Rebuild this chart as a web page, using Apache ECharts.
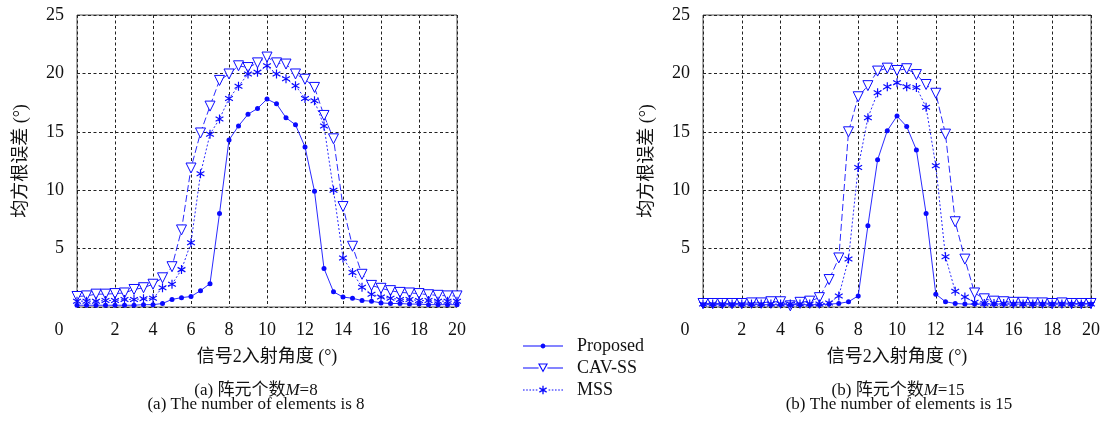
<!DOCTYPE html>
<html><head><meta charset="utf-8">
<script src="https://cdn.jsdelivr.net/npm/echarts@6/dist/echarts.min.js"></script>
<style>html,body{margin:0;padding:0;background:#fff}#c{width:1104px;height:430px}</style>
</head><body><div id="c"></div>
<script>
// ---- data ----
const angles = [0,0.5,1,1.5,2,2.5,3,3.5,4,4.5,5,5.5,6,6.5,7,7.5,8,8.5,9,9.5,10,10.5,11,11.5,12,12.5,13,13.5,14,14.5,15,15.5,16,16.5,17,17.5,18,18.5,19,19.5,20];
const xTickValues = [0,2,4,6,8,10,12,14,16,18,20];
const yTickValues = [0,5,10,15,20,25];
const seriesNames = ['Proposed','CAV-SS','MSS'];
// (a) M = 8
const proposedM8 = [0.15,0.15,0.15,0.15,0.15,0.15,0.15,0.2,0.2,0.3,0.65,0.8,0.9,1.4,2.0,8.0,14.3,15.5,16.5,17.0,17.8,17.4,16.2,15.6,13.7,9.9,3.3,1.3,0.85,0.75,0.55,0.5,0.35,0.3,0.3,0.25,0.25,0.2,0.2,0.2,0.2];
const cavM8 = [0.9,0.95,1.1,1.1,1.15,1.2,1.5,1.65,1.95,2.5,3.45,6.6,11.9,14.9,17.2,19.4,19.95,20.65,20.5,20.9,21.4,20.9,20.8,19.95,19.5,18.8,16.4,14.4,8.6,5.2,2.8,1.85,1.6,1.4,1.25,1.2,1.15,1.05,1.0,0.95,0.95];
const mssM8 = [0.5,0.5,0.5,0.55,0.55,0.65,0.65,0.7,0.75,1.65,1.95,3.2,5.5,11.4,14.8,16.1,17.85,18.9,19.95,20.1,20.65,19.95,19.55,18.95,17.85,17.65,15.5,10.0,4.2,2.95,1.7,1.1,0.85,0.75,0.65,0.65,0.55,0.55,0.5,0.5,0.5];
// (b) M = 15
const proposedM15 = [0.2,0.2,0.2,0.2,0.2,0.2,0.2,0.2,0.2,0.2,0.2,0.2,0.2,0.25,0.3,0.45,0.95,6.95,12.6,15.1,16.35,15.45,13.45,8.0,1.1,0.45,0.3,0.25,0.25,0.25,0.25,0.25,0.25,0.25,0.25,0.25,0.25,0.25,0.25,0.25,0.25];
const cavM15 = [0.3,0.3,0.3,0.3,0.3,0.35,0.35,0.45,0.45,0.1,0.4,0.5,0.8,2.35,4.2,15.0,18.0,18.95,20.2,20.45,20.25,20.4,19.9,19.05,18.3,14.8,7.3,4.1,1.2,0.7,0.5,0.45,0.4,0.4,0.35,0.35,0.3,0.35,0.3,0.3,0.3];
const mssM15 = [0.25,0.25,0.25,0.25,0.25,0.25,0.25,0.25,0.25,0.25,0.25,0.25,0.25,0.35,0.95,4.1,11.95,16.2,18.35,18.85,19.2,18.85,18.8,17.1,12.1,4.3,1.35,0.85,0.4,0.3,0.3,0.3,0.25,0.25,0.25,0.25,0.25,0.25,0.25,0.25,0.25];

// ---- symbol path helpers ----
function f(v){return v.toFixed(2);}
function bar(x1,y1,x2,y2,hw){
  const dx=x2-x1, dy=y2-y1, L=Math.hypot(dx,dy), nx=-dy/L*hw, ny=dx/L*hw;
  const p=[[x1+nx,y1+ny],[x2+nx,y2+ny],[x2-nx,y2-ny],[x1-nx,y1-ny]];
  return 'M'+p.map(q=>f(q[0])+','+f(q[1])).join(' L')+' Z ';
}
function circlePath(cx,cy,r){
  const pts=[];
  for(let k=0;k<16;k++){const t=-k*2*Math.PI/16; pts.push([cx+r*Math.cos(t),cy+r*Math.sin(t)]);}
  return 'M'+pts.map(q=>f(q[0])+','+f(q[1])).join(' L')+' Z ';
}
function starPath(cx,cy,r,hw){
  return [90,30,150].map(a=>{const c=Math.cos(a*Math.PI/180)*r, s=Math.sin(a*Math.PI/180)*r; return bar(cx-c,cy-s,cx+c,cy+s,hw);}).join('');
}
const anchors = 'M0,0 L0.05,0 L0,0.05 Z M40,14 L39.95,14 L40,13.95 Z ';
const iconProposed = 'path://' + anchors + bar(0,7,40,7,0.6) + circlePath(20,7,2.4);
const iconCav = 'path://' + anchors + bar(0,7,15.6,7,0.6) + bar(24.4,7,40,7,0.6)
  + 'M15,2.5 L20,11.5 L25,2.5 Z M16.9,3.6 L23.1,3.6 L20,9.3 Z';
let dots='';
for(let x=0;x<40;x+=3.2){ if(x+1.6<16.5 || x>23.5) dots+=bar(x,7,x+1.6,7,0.6); }
const iconMss = 'path://' + anchors + dots + starPath(20,7,4.2,0.65);
const starSymbol = 'path://' + starPath(10,10,10,1.3);

const BLUE='#0a0aff';
const SERIF="'Liberation Serif', 'Noto Sans CJK SC', serif";
const MIXED="'Liberation Serif', 'Noto Sans CJK SC', serif";

const chart = echarts.init(document.getElementById('c'), null, {renderer:'canvas'});

function axisX(gi){
  return {
    type:'value', gridIndex:gi, min:xTickValues[0], max:xTickValues[xTickValues.length-1], interval:2,
    name:'信号2入射角度 (°)', nameLocation:'middle', nameGap:41,
    nameTextStyle:{fontFamily:MIXED, fontSize:18, color:'#111'},
    axisLine:{show:false}, axisTick:{show:false},
    axisLabel:{margin:14, fontFamily:SERIF, fontSize:18, color:'#111',
      formatter:v=> v===0 ? '{z|0}' : String(v),
      rich:{z:{fontFamily:SERIF, fontSize:18, color:'#111', padding:[0,36,0,0]}}},
    splitLine:{show:true, lineStyle:{color:'#222', type:[3,2.5], width:1}}
  };
}
function axisY(gi){
  return {
    type:'value', gridIndex:gi, min:yTickValues[0], max:yTickValues[yTickValues.length-1], interval:5,
    name:'均方根误差 (°)', nameLocation:'middle', nameGap:47,
    nameTextStyle:{fontFamily:MIXED, fontSize:18, color:'#111'},
    axisLine:{show:false}, axisTick:{show:false},
    axisLabel:{margin:13, fontFamily:SERIF, fontSize:18, color:'#111', formatter:v=> v===0 ? '' : String(v)},
    splitLine:{show:true, lineStyle:{color:'#222', type:[3,2.5], width:1}}
  };
}
function pairs(vals){ return angles.map((a,i)=>[a, vals[i]]); }
function seriesSet(gi, prop, cav, mss){
  return [
    {name:seriesNames[0], type:'line', xAxisIndex:gi, yAxisIndex:gi, data:pairs(prop),
     symbol:'circle', symbolSize:5, lineStyle:{color:'#2a2aff', width:1, type:'solid'},
     itemStyle:{color:BLUE}, z:3},
    {name:seriesNames[1], type:'line', xAxisIndex:gi, yAxisIndex:gi, data:pairs(cav),
     symbol:'triangle', symbolRotate:180, symbolSize:10, lineStyle:{color:'#2a2aff', width:1, type:[7,3]},
     itemStyle:{color:'#fff', borderColor:BLUE, borderWidth:1}, z:2},
    {name:seriesNames[2], type:'line', xAxisIndex:gi, yAxisIndex:gi, data:pairs(mss),
     symbol:starSymbol, symbolKeepAspect:true, symbolSize:9, lineStyle:{color:'#2a2aff', width:1, type:[2,2]},
     itemStyle:{color:BLUE}, z:2}
  ].map(s=>Object.assign(s,{showSymbol:true, animation:false, emphasis:{disabled:true}, silent:true}));
}
function caption(x,y,text){
  return {type:'text', x:x, y:y, style:{text:text, fontFamily:MIXED, fontSize:17, fill:'#111',
    align:'center', verticalAlign:'middle',
    rich:{i:{fontStyle:'italic', fontFamily:SERIF, fontSize:17, fill:'#111'}}}};
}

chart.setOption({
  animation:false,
  backgroundColor:'#fff',
  grid:[
    {left:77, top:15, width:380, height:292, show:true, borderColor:'#555', borderWidth:1, backgroundColor:'transparent'},
    {left:703, top:15, width:388, height:292, show:true, borderColor:'#555', borderWidth:1, backgroundColor:'transparent'}
  ],
  xAxis:[axisX(0), axisX(1)],
  yAxis:[axisY(0), axisY(1)],
  legend:{
    orient:'vertical', left:518, top:332, itemWidth:40, itemHeight:14, itemGap:4,
    padding:5, selectedMode:false,
    itemStyle:{borderWidth:0},
    textStyle:{fontFamily:SERIF, fontSize:18, color:'#111', padding:[0,0,0,9]},
    data:[
      {name:seriesNames[0], icon:iconProposed, itemStyle:{color:BLUE, borderWidth:0}},
      {name:seriesNames[1], icon:iconCav, itemStyle:{color:BLUE, borderWidth:0}},
      {name:seriesNames[2], icon:iconMss, itemStyle:{color:BLUE, borderWidth:0}}
    ]
  },
  series:[].concat(seriesSet(0, proposedM8, cavM8, mssM8), seriesSet(1, proposedM15, cavM15, mssM15)),
  graphic:[
    caption(256, 391, '(a) 阵元个数{i|M}=8'),
    caption(256, 404.5, '(a) The number of elements is 8'),
    caption(898, 391, '(b) 阵元个数{i|M}=15'),
    caption(899, 404.5, '(b) The number of elements is 15')
  ]
});
</script>
</body></html>
